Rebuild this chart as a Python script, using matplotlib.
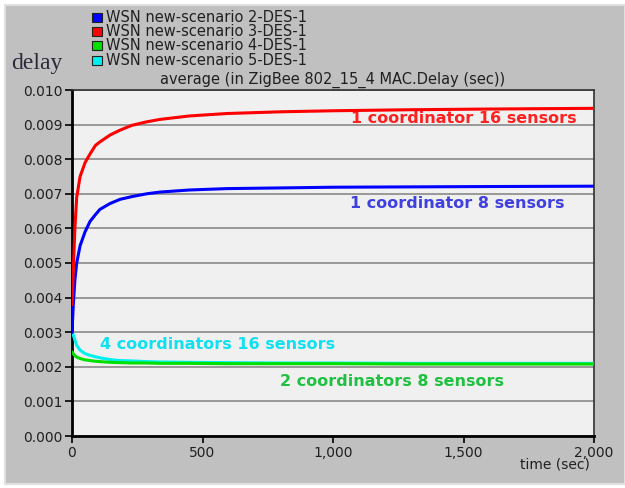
import numpy as np
import matplotlib
matplotlib.use("Agg")
import matplotlib.pyplot as plt
from matplotlib.patches import Rectangle

# ============================================
#  DATA
# ============================================
t = [0, 5, 11, 18, 31, 50, 69, 90, 107, 146, 184, 230, 286, 337, 450, 593, 800, 1000, 1300, 1600, 2000]

delay_1c16s = [0.0038, 0.0048, 0.0060, 0.0069, 0.0075, 0.0079, 0.00815, 0.0084, 0.0085, 0.0087, 0.00884,
               0.00898, 0.00908, 0.00915, 0.00925, 0.00932, 0.00937, 0.00940, 0.00943, 0.00945, 0.00947]
delay_1c8s = [0.0030, 0.0038, 0.0045, 0.0050, 0.0055, 0.0059, 0.0062, 0.0064, 0.00655, 0.00672, 0.00684,
              0.00692, 0.00700, 0.00705, 0.00711, 0.00715, 0.00717, 0.00719, 0.00720, 0.00721, 0.00722]
delay_2c8s = [0.00242, 0.00238, 0.00232, 0.00228, 0.00224, 0.00220, 0.00218, 0.00216, 0.00215, 0.00213,
              0.00212, 0.00211, 0.00211, 0.00210, 0.00210, 0.00209, 0.00209, 0.00209, 0.00208, 0.00208, 0.00208]
delay_4c16s = [0.0030, 0.00292, 0.00278, 0.00262, 0.00248, 0.00238, 0.00233, 0.00229, 0.00226, 0.00221,
               0.00218, 0.00217, 0.00215, 0.00214, 0.00213, 0.00212, 0.00211, 0.00211, 0.00210, 0.00210, 0.00210]

legend_names = ["WSN new-scenario 2-DES-1", "WSN new-scenario 3-DES-1",
                "WSN new-scenario 4-DES-1", "WSN new-scenario 5-DES-1"]
legend_colors = ["#0000ff", "#ff0000", "#00e000", "#00f0f0"]

yticks = [0.000, 0.001, 0.002, 0.003, 0.004, 0.005, 0.006, 0.007, 0.008, 0.009, 0.010]
xticks = [0, 500, 1000, 1500, 2000]

# ============================================
#  FIGURE
# ============================================
fig = plt.figure(figsize=(6.25, 4.88), dpi=100)
fig.patch.set_facecolor("white")
# fundo cinza estilo OPNET
fig.patches.append(Rectangle((5 / 625, 4 / 488), 620 / 625, 479 / 488, transform=fig.transFigure,
                             facecolor="#c0c0c0", edgecolor="#e0e0e0", lw=1.5, zorder=-10))

ax = fig.add_axes([72 / 625, 1 - 436 / 488, 522 / 625, 346 / 488])
ax.set_zorder(5)
ax.set_facecolor("#f0f0f0")

ax.plot(t, delay_4c16s, color="#00f0f0", lw=2.2, zorder=3)
ax.plot(t, delay_2c8s, color="#00e000", lw=2.2, zorder=4)
ax.plot(t, delay_1c8s, color="#0000ff", lw=2.2, zorder=5)
ax.plot(t, delay_1c16s, color="#ff0000", lw=2.2, zorder=6)

ax.set_xlim(0, 2000)
ax.set_ylim(0, 0.010)
ax.set_yticks(yticks)
ax.set_yticklabels([f"{v:.3f}" for v in yticks])
ax.set_xticks(xticks)
ax.set_xticklabels([f"{v:,}" for v in xticks])
ax.yaxis.grid(True, color="#808080", lw=1.1)
ax.set_axisbelow(True)
ax.tick_params(labelsize=10, labelcolor="#202020", length=5, width=1.2, color="black", pad=2)

for side in ["left", "bottom"]:
    ax.spines[side].set_linewidth(2)
    ax.spines[side].set_color("black")
for side in ["top", "right"]:
    ax.spines[side].set_linewidth(1.2)
    ax.spines[side].set_color("#303030")

# anotações das curvas
bold = dict(fontsize=11.5, fontweight="bold", ha="left", va="center")
ax.text(1069, 0.00918, "1 coordinator 16 sensors", color="#ff2020", **bold)
ax.text(1065, 0.00672, "1 coordinator 8 sensors", color="#4040e0", **bold)
ax.text(107, 0.00265, "4 coordinators 16 sensors", color="#10e0f0", **bold)
ax.text(797, 0.00158, "2 coordinators 8 sensors", color="#20c040", **bold)

# titulo e rótulos
fig.text(333 / 625, 1 - 80 / 488, "average (in ZigBee 802_15_4 MAC.Delay (sec))",
         fontsize=10.5, color="#202020", ha="center", va="center")
fig.text(590 / 625, 1 - 465 / 488, "time (sec)", fontsize=10, color="#202020",
         ha="right", va="center")
fig.text(11 / 625, 1 - 63 / 488, "delay", fontsize=17, family="Liberation Serif",
         color="#2a2a3a", ha="left", va="center")

# legenda manual
for i, (name, col) in enumerate(zip(legend_names, legend_colors)):
    y = 1 - (17 + i * 14.5) / 488
    fig.patches.append(Rectangle((92 / 625, y - 4.5 / 488), 10 / 625, 9 / 488,
                                 transform=fig.transFigure, facecolor=col,
                                 edgecolor="#202020", lw=0.8))
    fig.text(106 / 625, y, name, fontsize=10.5, color="#202020", ha="left", va="center")

fig.savefig("out.png", dpi=100)
